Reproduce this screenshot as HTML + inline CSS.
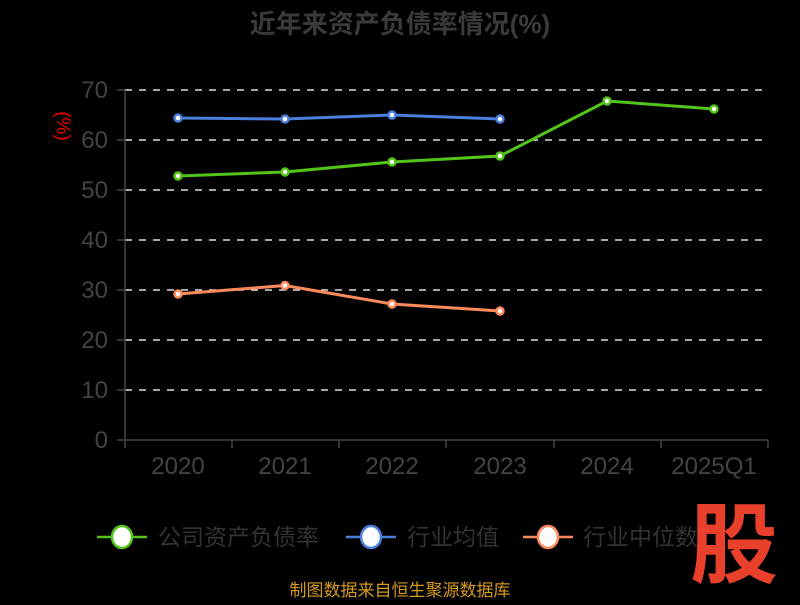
<!DOCTYPE html>
<html><head><meta charset="utf-8"><style>
body{margin:0;background:#000;width:800px;height:600px;overflow:hidden;font-family:"Liberation Sans","Noto Sans CJK SC",sans-serif}
</style></head><body>
<svg width="800" height="600" xmlns="http://www.w3.org/2000/svg" style="font-family:'Liberation Sans','Noto Sans CJK SC',sans-serif">
<rect width="800" height="600" fill="#000"/>
<text x="400" y="33" text-anchor="middle" font-size="26" font-weight="bold" fill="#3a3a3a">近年来资产负债率情况(%)</text>
<text transform="translate(57,126) rotate(90)" text-anchor="middle" font-size="19" fill="#e00">(%)</text>
<g stroke="#ddd" stroke-width="1.5" stroke-dasharray="7,7">
<line x1="125" y1="90" x2="768" y2="90"/><line x1="125" y1="140" x2="768" y2="140"/><line x1="125" y1="190" x2="768" y2="190"/><line x1="125" y1="240" x2="768" y2="240"/><line x1="125" y1="290" x2="768" y2="290"/><line x1="125" y1="340" x2="768" y2="340"/><line x1="125" y1="390" x2="768" y2="390"/>
</g>
<g stroke="#444" stroke-width="1.5">
<line x1="125" y1="90" x2="125" y2="440"/><line x1="125" y1="440" x2="768" y2="440"/>
<line x1="117" y1="90" x2="125" y2="90"/><line x1="117" y1="140" x2="125" y2="140"/><line x1="117" y1="190" x2="125" y2="190"/><line x1="117" y1="240" x2="125" y2="240"/><line x1="117" y1="290" x2="125" y2="290"/><line x1="117" y1="340" x2="125" y2="340"/><line x1="117" y1="390" x2="125" y2="390"/><line x1="117" y1="440" x2="125" y2="440"/>
<line x1="125" y1="440" x2="125" y2="448"/><line x1="232" y1="440" x2="232" y2="448"/><line x1="339" y1="440" x2="339" y2="448"/><line x1="446" y1="440" x2="446" y2="448"/><line x1="554" y1="440" x2="554" y2="448"/><line x1="661" y1="440" x2="661" y2="448"/><line x1="768" y1="440" x2="768" y2="448"/>
</g>
<g font-size="24" fill="#444" text-anchor="end">
<text x="108" y="98">70</text><text x="108" y="148">60</text><text x="108" y="198">50</text><text x="108" y="248">40</text><text x="108" y="298">30</text><text x="108" y="348">20</text><text x="108" y="398">10</text><text x="108" y="448">0</text>
</g>
<g font-size="24" fill="#444" text-anchor="middle">
<text x="178" y="474">2020</text><text x="285" y="474">2021</text><text x="392" y="474">2022</text><text x="500" y="474">2023</text><text x="607" y="474">2024</text><text x="714" y="474">2025Q1</text>
</g>
<polyline fill="none" stroke="#52c41a" stroke-width="3" points="178,176 285,172 392,162 500,156 607,101 714,109"/>
<polyline fill="none" stroke="#4a7fdc" stroke-width="3" points="178,118 285,119 392,115 500,119"/>
<polyline fill="none" stroke="#ff8a5c" stroke-width="3" points="178,294 285,285.5 392,304 500,311"/>
<g fill="#fff" stroke-width="2.5">
<g stroke="#52c41a"><circle cx="178" cy="176" r="3.5"/><circle cx="285" cy="172" r="3.5"/><circle cx="392" cy="162" r="3.5"/><circle cx="500" cy="156" r="3.5"/><circle cx="607" cy="101" r="3.5"/><circle cx="714" cy="109" r="3.5"/></g>
<g stroke="#4a7fdc"><circle cx="178" cy="118" r="3.5"/><circle cx="285" cy="119" r="3.5"/><circle cx="392" cy="115" r="3.5"/><circle cx="500" cy="119" r="3.5"/></g>
<g stroke="#ff8a5c"><circle cx="178" cy="294" r="3.5"/><circle cx="285" cy="285.5" r="3.5"/><circle cx="392" cy="304" r="3.5"/><circle cx="500" cy="311" r="3.5"/></g>
</g>
<g font-size="23" fill="#333">
<line x1="97" y1="537" x2="147" y2="537" stroke="#52c41a" stroke-width="2.5"/><ellipse cx="122" cy="537" rx="10" ry="11" fill="#fff" stroke="#52c41a" stroke-width="2.5"/>
<text x="158" y="545">公司资产负债率</text>
<line x1="346" y1="537" x2="396" y2="537" stroke="#4a7fdc" stroke-width="2.5"/><ellipse cx="371" cy="537" rx="10" ry="11" fill="#fff" stroke="#4a7fdc" stroke-width="2.5"/>
<text x="407" y="545">行业均值</text>
<line x1="523" y1="537" x2="573" y2="537" stroke="#ff8a5c" stroke-width="2.5"/><ellipse cx="548" cy="537" rx="10" ry="11" fill="#fff" stroke="#ff8a5c" stroke-width="2.5"/>
<text x="583" y="545">行业中位数</text>
</g>
<text x="734" y="576" text-anchor="middle" font-size="88" font-weight="bold" fill="#e8402a">股</text>
<text x="400" y="596" text-anchor="middle" font-size="17" fill="#d49a1e">制图数据来自恒生聚源数据库</text>
</svg>
</body></html>
